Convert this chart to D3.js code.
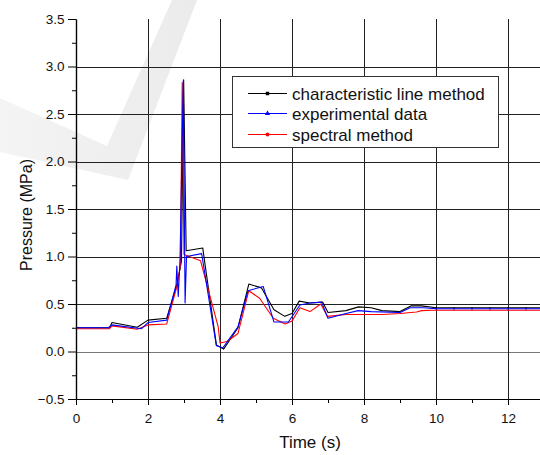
<!DOCTYPE html>
<html>
<head>
<meta charset="utf-8">
<script src="https://cdn.jsdelivr.net/npm/d3@7"></script>
<style>
  body { margin: 0; background: #fff; }
  text { font-family: "Liberation Sans", Arial, sans-serif; fill: #111; }
</style>
</head>
<body>
<div id="chart"></div>
<script>
// characteristic line method (black)
var charTime = [0, 0.93, 1.0, 1.7, 2.0, 2.52, 2.8, 2.93, 2.99, 3.06, 3.52, 3.9, 4.1, 4.5, 4.8, 5.15, 5.5, 5.8, 6.0, 6.2, 6.5, 6.85, 7.0, 7.5, 7.85, 8.2, 8.5, 9.0, 9.3, 9.6, 10.0, 10.5, 11.0, 11.5, 12.0, 12.5, 13.0];
var charPressure = [0.25, 0.25, 0.305, 0.255, 0.33, 0.35, 0.70, 0.95, 2.86, 1.06, 1.09, 0.07, 0.025, 0.25, 0.71, 0.67, 0.44, 0.37, 0.40, 0.53, 0.51, 0.52, 0.41, 0.43, 0.47, 0.46, 0.43, 0.42, 0.48, 0.48, 0.46, 0.46, 0.46, 0.46, 0.46, 0.46, 0.46];

// experimental data (blue)
var expTime = [0, 0.9, 1.0, 1.82, 2.0, 2.52, 2.78, 2.80, 2.84, 2.89, 2.98, 3.03, 3.07, 3.49, 3.9, 4.08, 4.5, 4.78, 5.2, 5.5, 5.9, 6.22, 6.5, 6.82, 7.0, 7.5, 7.84, 8.2, 9.0, 9.28, 9.65, 10.0, 10.5, 11.0, 11.5, 12.0, 12.5, 13.0];
var expPressure = [0.25, 0.25, 0.28, 0.24, 0.305, 0.33, 0.70, 0.90, 0.58, 0.97, 2.85, 0.51, 1.0, 1.03, 0.06, 0.04, 0.26, 0.64, 0.685, 0.31, 0.31, 0.49, 0.51, 0.52, 0.35, 0.40, 0.43, 0.42, 0.41, 0.46, 0.46, 0.45, 0.45, 0.45, 0.45, 0.45, 0.45, 0.45];

// spectral method (red)
var specTime = [0, 0.93, 1.0, 1.7, 2.0, 2.52, 2.8, 2.9, 2.95, 3.0, 3.46, 3.95, 4.0, 4.2, 4.5, 4.8, 5.1, 5.48, 5.81, 6.0, 6.22, 6.5, 6.8, 6.98, 7.5, 7.96, 8.5, 9.0, 9.46, 9.6, 9.9, 10.5, 11.0, 11.5, 12.0, 12.5, 13.0];
var specPressure = [0.24, 0.24, 0.27, 0.235, 0.28, 0.29, 0.68, 0.90, 2.83, 1.02, 0.955, 0.26, 0.09, 0.105, 0.19, 0.64, 0.56, 0.35, 0.29, 0.32, 0.46, 0.42, 0.50, 0.37, 0.39, 0.39, 0.39, 0.40, 0.415, 0.43, 0.435, 0.435, 0.435, 0.435, 0.435, 0.435, 0.435];

var seriesNames = ["characteristic line method", "experimental data", "spectral method"];
var xMajor = [0, 2, 4, 6, 8, 10, 12];
var xMinor = [1, 3, 5, 7, 9, 11];
var yMajor = [-0.5, 0, 0.5, 1.0, 1.5, 2.0, 2.5, 3.0, 3.5];
var yMinor = [-0.25, 0.25, 0.75, 1.25, 1.75, 2.25, 2.75, 3.25];

var W = 540, H = 455;
var margin = {top: 19, left: 76, bottom: 56};
var plotH = H - margin.top - margin.bottom;   // 380
var plotW = 13 * 36;                            // runs past the right edge

var svg = d3.select("#chart").append("svg")
  .attr("width", W)
  .attr("height", H)
  .style("display", "block");

svg.append("rect").attr("width", W).attr("height", H).attr("fill", "#fff");

// faint check-mark watermark
var grad = svg.append("defs").append("linearGradient")
  .attr("id", "wm").attr("x1", "0").attr("x2", "1").attr("y1", "0").attr("y2", "0");
grad.append("stop").attr("offset", "0").attr("stop-color", "#f4f4f4");
grad.append("stop").attr("offset", "1").attr("stop-color", "#ebebeb");
svg.append("path")
  .attr("d", "M0,98 L107,146 L172,0 L197,0 L128,180 L0,152 Z")
  .attr("fill", "url(#wm)");

var g = svg.append("g")
  .attr("transform", "translate(" + margin.left + "," + margin.top + ")");

var x = d3.scaleLinear().domain([0, 13]).range([0, plotW]);
var y = d3.scaleLinear().domain([-0.5, 3.5]).range([plotH, 0]);

// grid
g.selectAll(".hgrid")
  .data(yMajor.filter(function (d) { return d > -0.5 && d < 3.5; }))
  .enter().append("line")
    .attr("x1", 0).attr("x2", plotW)
    .attr("y1", function (d) { return Math.round(y(d)) + 0.5; })
    .attr("y2", function (d) { return Math.round(y(d)) + 0.5; })
    .attr("stroke", function (d) { return d === 0 ? "#777" : "#222"; })
    .attr("stroke-width", 1);

g.selectAll(".vgrid")
  .data(xMajor.filter(function (d) { return d > 0; }))
  .enter().append("line")
    .attr("y1", 0).attr("y2", plotH)
    .attr("x1", function (d) { return Math.round(x(d)) + 0.5; })
    .attr("x2", function (d) { return Math.round(x(d)) + 0.5; })
    .attr("stroke", "#222")
    .attr("stroke-width", 1);

// legend box
var legend = svg.append("g");
legend.append("rect")
  .attr("x", 232.5).attr("y", 76.5)
  .attr("width", 266).attr("height", 71)
  .attr("fill", "#fff")
  .attr("stroke", "#333");

// lines
var colors = ["#000", "#0000ff", "#ff0000"];
var series = [
  {t: charTime, p: charPressure, c: colors[0], m: "square"},
  {t: specTime, p: specPressure, c: colors[2], m: "circle"},
  {t: expTime, p: expPressure, c: colors[1], m: "triangle"}
];

var line = d3.line()
  .x(function (d) { return x(d[0]); })
  .y(function (d) { return y(d[1]); });

var symbols = {square: d3.symbolSquare, circle: d3.symbolCircle, triangle: d3.symbolTriangle};

series.forEach(function (s) {
  var pts = s.t.map(function (t, i) { return [t, s.p[i]]; });
  g.append("path")
    .datum(pts)
    .attr("d", line)
    .attr("fill", "none")
    .attr("stroke", s.c)
    .attr("stroke-width", 1.1)
    .attr("stroke-linejoin", "round");
  // tiny markers, only visible on the flat tail
  g.selectAll(null)
    .data(pts.filter(function (d) { return d[0] >= 10 && d[0] < 13; }))
    .enter().append("path")
      .attr("d", d3.symbol().type(symbols[s.m]).size(2))
      .attr("transform", function (d) { return "translate(" + x(d[0]) + "," + y(d[1]) + ")"; })
      .attr("fill", s.c)
      .attr("opacity", 0.7);
});

// axes
g.append("g")
  .call(d3.axisLeft(y).tickValues(yMajor).tickSize(8).tickSizeOuter(0).tickPadding(3.5)
        .tickFormat(d3.format(".1f")));
g.append("g")
  .call(d3.axisLeft(y).tickValues(yMinor).tickSize(4).tickSizeOuter(0).tickFormat(""));

g.append("g")
  .attr("transform", "translate(0," + plotH + ")")
  .call(d3.axisBottom(x).tickValues(xMajor).tickSize(6).tickSizeOuter(0).tickPadding(8)
        .tickFormat(d3.format("d")));
g.append("g")
  .attr("transform", "translate(0," + plotH + ")")
  .call(d3.axisBottom(x).tickValues(xMinor).tickSize(4).tickSizeOuter(0).tickFormat(""));

g.selectAll(".domain").attr("stroke", "#000").attr("stroke-width", 1.2);
g.selectAll(".tick line").attr("stroke", "#000");
g.selectAll(".tick text")
  .style("font-family", "'Liberation Sans', Arial, sans-serif")
  .style("font-size", "13.5px")
  .attr("fill", "#111");

// axis titles
svg.append("text")
  .attr("x", 310).attr("y", 448)
  .attr("text-anchor", "middle")
  .style("font-size", "17px")
  .text("Time (s)");

svg.append("text")
  .attr("transform", "translate(32,215) rotate(-90)")
  .attr("text-anchor", "middle")
  .style("font-size", "16px")
  .text("Pressure (MPa)");

// legend entries
var legendY = [93.5, 113.5, 134.5];
var legendSym = ["square", "triangle", "circle"];
seriesNames.forEach(function (name, i) {
  legend.append("line")
    .attr("x1", 248).attr("x2", 287)
    .attr("y1", legendY[i]).attr("y2", legendY[i])
    .attr("stroke", colors[i])
    .attr("stroke-width", 1.2);
  legend.append("path")
    .attr("d", d3.symbol().type(symbols[legendSym[i]]).size(12))
    .attr("transform", "translate(267.5," + legendY[i] + ")")
    .attr("fill", colors[i]);
  legend.append("text")
    .attr("x", 292).attr("y", legendY[i] + 6)
    .style("font-size", "17px")
    .text(name);
});
</script>
</body>
</html>
